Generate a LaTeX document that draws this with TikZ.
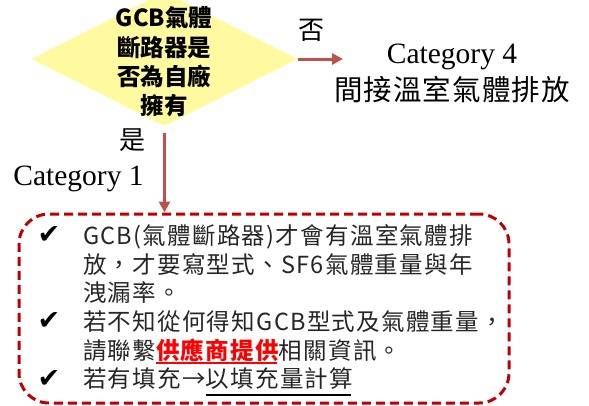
\documentclass[tikz,border=0pt]{standalone}
\usepackage{fontspec}
\setmainfont{Liberation Serif}
\newfontfamily\cjk[Script=CJK,Language=Chinese Traditional,LetterSpace=5.5]{Noto Sans CJK TC}
\newfontfamily\cjkb[Script=CJK,Language=Chinese Traditional]{Noto Sans CJK TC}
\newfontfamily\cjkwide[Script=CJK,Language=Chinese Traditional,LetterSpace=4]{Noto Sans CJK TC}
\newfontfamily\symfont{DejaVu Sans}
\usetikzlibrary{shapes.geometric,arrows.meta,calc}
\definecolor{arrowred}{HTML}{C0504D}
\definecolor{boxred}{HTML}{C00000}
\definecolor{dyellow}{RGB}{255,250,160}
\definecolor{txtgray}{HTML}{262626}
\definecolor{hired}{HTML}{FF0000}
\tikzset{
  txt/.style={inner sep=0pt, outer sep=0pt, anchor=base west, text=txtgray, font=\cjk\fontsize{23.5}{28}\selectfont},
  redtxt/.style={txt, text=hired, font=\cjk\bfseries\fontsize{23.5}{28}\selectfont},
  dtxt/.style={inner sep=0pt, outer sep=0pt, anchor=base, text=black, font=\cjkb\bfseries\fontsize{23.5}{28}\selectfont},
  chk/.style={inner sep=0pt, outer sep=0pt, text=black, font=\symfont\fontsize{27}{30}\selectfont},
  cat/.style={inner sep=0pt, outer sep=0pt, anchor=base, text=black, font=\fontsize{29.5}{34}\selectfont},
  yn/.style={inner sep=0pt, outer sep=0pt, text=black, font=\cjkwide\fontsize{26}{30}\selectfont},
  arr/.style={draw=arrowred, line width=3pt, -{Triangle[length=11pt,width=11pt]}},
  dbox/.style={draw=boxred, line width=3pt, dash pattern=on 9pt off 5pt, rounded corners=30pt, inner sep=0pt},
  dec/.style={shape=diamond, fill=dyellow, inner sep=0pt, minimum width=266pt, minimum height=134pt}
}
\begin{document}
\begin{tikzpicture}[x=1pt,y=-1pt]
\useasboundingbox (0,0) rectangle (589,405);
\clip (0,0) rectangle (589,405);
% decision diamond
\node[dec] (d) at (164.5,59) {};
\node[dtxt] (d1) at (164,26) {GCB氣體};
\node[dtxt] (d2) at (164,56) {斷路器是};
\node[dtxt] (d3) at (164,85.5) {否為自廠};
\node[dtxt] (d4) at (164,114.5) {擁有};
% no branch
\node[yn] (no) at (311,30) {否};
\coordinate (noend) at (343,59);
\draw[arr] (d.east) -- (noend);
\node[cat] (c4) at (452,63) {Category 4};
\node[cat, font=\cjkwide\fontsize{28.5}{32}\selectfont] (c4b) at (452,100) {間接溫室氣體排放};
% yes branch
\node[yn] (yes) at (132,140) {是};
\node[cat] (c1) at (78.5,185) {Category 1};
% box
\node[dbox, minimum width=490pt, minimum height=189pt] (box) at (264,308.5) {};
\draw[arr, shorten <=7pt] (d.south) -- (d.south |- box.north);
% box text
\node[chk] (k1) at (49,235) {✔};
\node[chk] (k2) at (49,321) {✔};
\node[chk] (k3) at (49,378.5) {✔};
\node[txt] (t1) at (83,244.4) {GCB(氣體斷路器)才會有溫室氣體排};
\node[txt] (t2) at (83,273.1) {放，才要寫型式、SF6氣體重量與年};
\node[txt] (t3) at (83,301.8) {洩漏率。};
\node[txt] (t4) at (83,330.5) {若不知從何得知GCB型式及氣體重量，};
\node[txt] (t5a) at (83,359.2) {請聯繫};
\node[redtxt] (t5b) at (t5a.base east) {供應商提供};
\node[txt] (t5c) at (t5b.base east) {相關資訊。};
\node[txt] (t6a) at (83,387.9) {若有填充→};
\node[txt] (t6b) at (t6a.base east) {以填充量計算};
\draw[hired, line width=2.5pt] ($(t5b.base west)+(0,3.8)$) -- ($(t5b.base east)+(-2,3.8)$);
\draw[black, line width=2pt] ($(t6b.base west)+(0,7)$) -- ($(t6b.base east)+(-2,7)$);
\end{tikzpicture}
\end{document}
